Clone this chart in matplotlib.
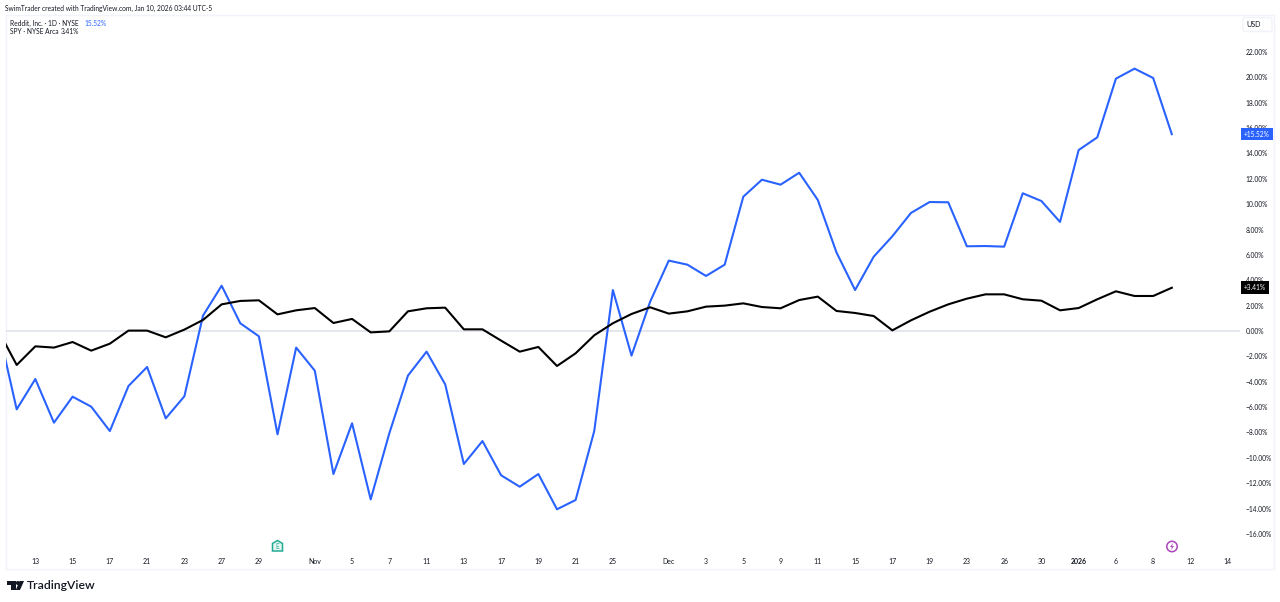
import matplotlib
matplotlib.use("Agg")
import matplotlib.pyplot as plt
from matplotlib.patches import Rectangle, FancyBboxPatch, Polygon, Circle

plt.rcParams['font.family'] = ['Lato', 'DejaVu Sans']

# daily % change, first value sits left of the visible area
reddit = [0.30, -6.18, -3.79, -7.23, -5.18, -5.97, -7.89, -4.34, -2.84, -6.89, -5.15,
          1.21, 3.57, 0.61, -0.42, -8.15, -1.31, -3.13, -11.28, -7.28, -13.28, -8.07,
          -3.52, -1.63, -4.21, -10.49, -8.68, -11.38, -12.28, -11.28, -14.06, -13.33,
          -7.89, 3.23, -1.94, 2.31, 5.55, 5.23, 4.34, 5.23, 10.59, 11.93, 11.54, 12.48,
          10.33, 6.20, 3.23, 5.86, 7.47, 9.31, 10.17, 10.15, 6.68, 6.70, 6.65, 10.86,
          10.25, 8.60, 14.27, 15.27, 19.90, 20.69, 19.95, 15.52]
spy = [0.08, -2.68, -1.21, -1.31, -0.87, -1.55, -1.00, 0.03, 0.03, -0.50, 0.11,
       0.87, 2.10, 2.37, 2.42, 1.31, 1.63, 1.81, 0.63, 0.95, -0.11, -0.03, 1.55,
       1.79, 1.84, 0.13, 0.13, -0.76, -1.63, -1.26, -2.76, -1.76, -0.34, 0.61, 1.34,
       1.87, 1.37, 1.55, 1.92, 2.00, 2.18, 1.89, 1.79, 2.44, 2.71, 1.58, 1.42, 1.18,
       0.05, 0.84, 1.52, 2.10, 2.55, 2.89, 2.89, 2.50, 2.39, 1.63, 1.81, 2.50, 3.13,
       2.76, 2.76, 3.41]

bars = list(range(-1, len(reddit) - 1))

date_pos = [1, 3, 5, 7, 9, 11, 13, 16, 18, 20, 22, 24, 26, 28, 30, 32, 35, 37, 39, 41,
            43, 45, 47, 49, 51, 53, 55, 57, 59, 61, 63, 65]
date_labels = ['13', '15', '17', '21', '23', '27', '29', 'Nov', '5', '7', '11', '13', '17',
               '19', '21', '25', 'Dec', '3', '5', '9', '11', '15', '17', '19', '23', '26',
               '30', '2026', '6', '8', '12', '14']
pct_ticks = list(range(-16, 24, 2))

BLUE = '#2962ff'
TXT = '#131722'
W, H = 1280, 602

fig = plt.figure(figsize=(12.8, 6.02), dpi=100, facecolor='white')

# page overlay in pixel units, for the frame, header and logo
pg = fig.add_axes([0, 0, 1, 1], zorder=0)
pg.set_xlim(0, W)
pg.set_ylim(H, 0)
pg.axis('off')
pg.add_patch(Rectangle((5.5, 14.5), 1268, 554, fc='white', ec='#f0f3fa', lw=1))

ax = fig.add_axes([5.5 / W, 1 - 552 / H, (1240 - 5.5) / W, (552 - 15) / H], zorder=1)
ax.patch.set_alpha(0)
ax.set_xlim(-0.601, 65.66)
ax.set_ylim(-17.43, 24.92)
for s in ax.spines.values():
    s.set_visible(False)

ax.axhline(0, color='#e0e3eb', lw=1.2, zorder=1)
ax.plot(bars, reddit, color=BLUE, lw=1.5, zorder=3)
ax.plot(bars, spy, color='black', lw=1.5, zorder=4)

ax.set_xticks(date_pos)
ax.set_xticklabels(date_labels, fontsize=5.0, color=TXT)
for lab, txt in zip(ax.get_xticklabels(), date_labels):
    if txt == '2026':
        lab.set_fontweight('bold')
ax.tick_params(axis='x', length=0, pad=4.6)

ax.yaxis.tick_right()
ax.set_yticks(pct_ticks)
ax.set_yticklabels([f'{v:.2f}%'.replace('-', '\u2212') for v in pct_ticks], fontsize=4.8, color=TXT)
ax.tick_params(axis='y', length=0, pad=4)

# last value tags on the price scale
tr = ax.get_yaxis_transform()
ax.text(1.0032, reddit[-1], f'+{reddit[-1]:.2f}%', transform=tr, ha='left', va='center',
        fontsize=4.8, color='white', zorder=6, clip_on=False,
        bbox=dict(boxstyle='square,pad=0.42', fc=BLUE, ec='none'))
ax.text(1.0032, spy[-1], f'+{spy[-1]:.2f}%', transform=tr, ha='left', va='center',
        fontsize=4.8, color='white', zorder=6, clip_on=False,
        bbox=dict(boxstyle='square,pad=0.42', fc='black', ec='none'))

# header and legend
pg.text(5, 8, 'SwimTrader created with TradingView.com, Jan 10, 2026 03:44 UTC-5',
        fontsize=4.8, color=TXT, va='center')
pg.text(10, 23, 'Reddit, Inc. \u00b7 1D \u00b7 NYSE', fontsize=4.8, color=TXT, va='center')
pg.text(84, 23, f'{reddit[-1]:.2f}%', fontsize=4.8, color=BLUE, va='center')
pg.text(10, 32, 'SPY \u00b7 NYSE Arca', fontsize=4.8, color=TXT, va='center')
pg.text(61, 32, f'{spy[-1]:.2f}%', fontsize=4.8, color=TXT, va='center')

# currency box
pg.add_patch(FancyBboxPatch((1243, 17.5), 29, 14, boxstyle='round,pad=0,rounding_size=2',
                            fc='white', ec='#f0f3fa', lw=1))
pg.text(1253.5, 24.5, 'USD', fontsize=5.0, color=TXT, ha='center', va='center')

# earnings and dividend/split markers
pg.add_patch(Polygon([(272.5, 551), (282.5, 551), (282.5, 543.5), (277.5, 540.5), (272.5, 543.5)],
                     closed=True, fc='#e8f6f3', ec='#22ab94', lw=1.1))
pg.text(277.5, 546.5, 'E', fontsize=4.8, color='#22ab94', ha='center', va='center')
pg.add_patch(Circle((1172, 546.5), 5.2, fc='white', ec='#ab47bc', lw=1.1))
pg.add_patch(Polygon([(1173.5, 542.5), (1170, 547), (1172, 547), (1170.5, 550.5), (1174, 546), (1172, 546)],
                     closed=True, fc='#ab47bc', ec='none'))

# TradingView logo
pg.add_patch(Polygon([(6.5, 581), (15.5, 581), (15.5, 590), (11, 590), (11, 585), (6.5, 585)],
                     closed=True, fc=TXT, ec='none'))
pg.add_patch(Circle((17.8, 583), 2, fc=TXT, ec='none'))
pg.add_patch(Polygon([(19.5, 581), (24, 581), (20, 590), (15.8, 590)], closed=True, fc=TXT, ec='none'))
pg.text(27, 585.5, 'TradingView', fontsize=8.7, fontweight='semibold', color=TXT, va='center')

fig.savefig('out.png', dpi=100)
